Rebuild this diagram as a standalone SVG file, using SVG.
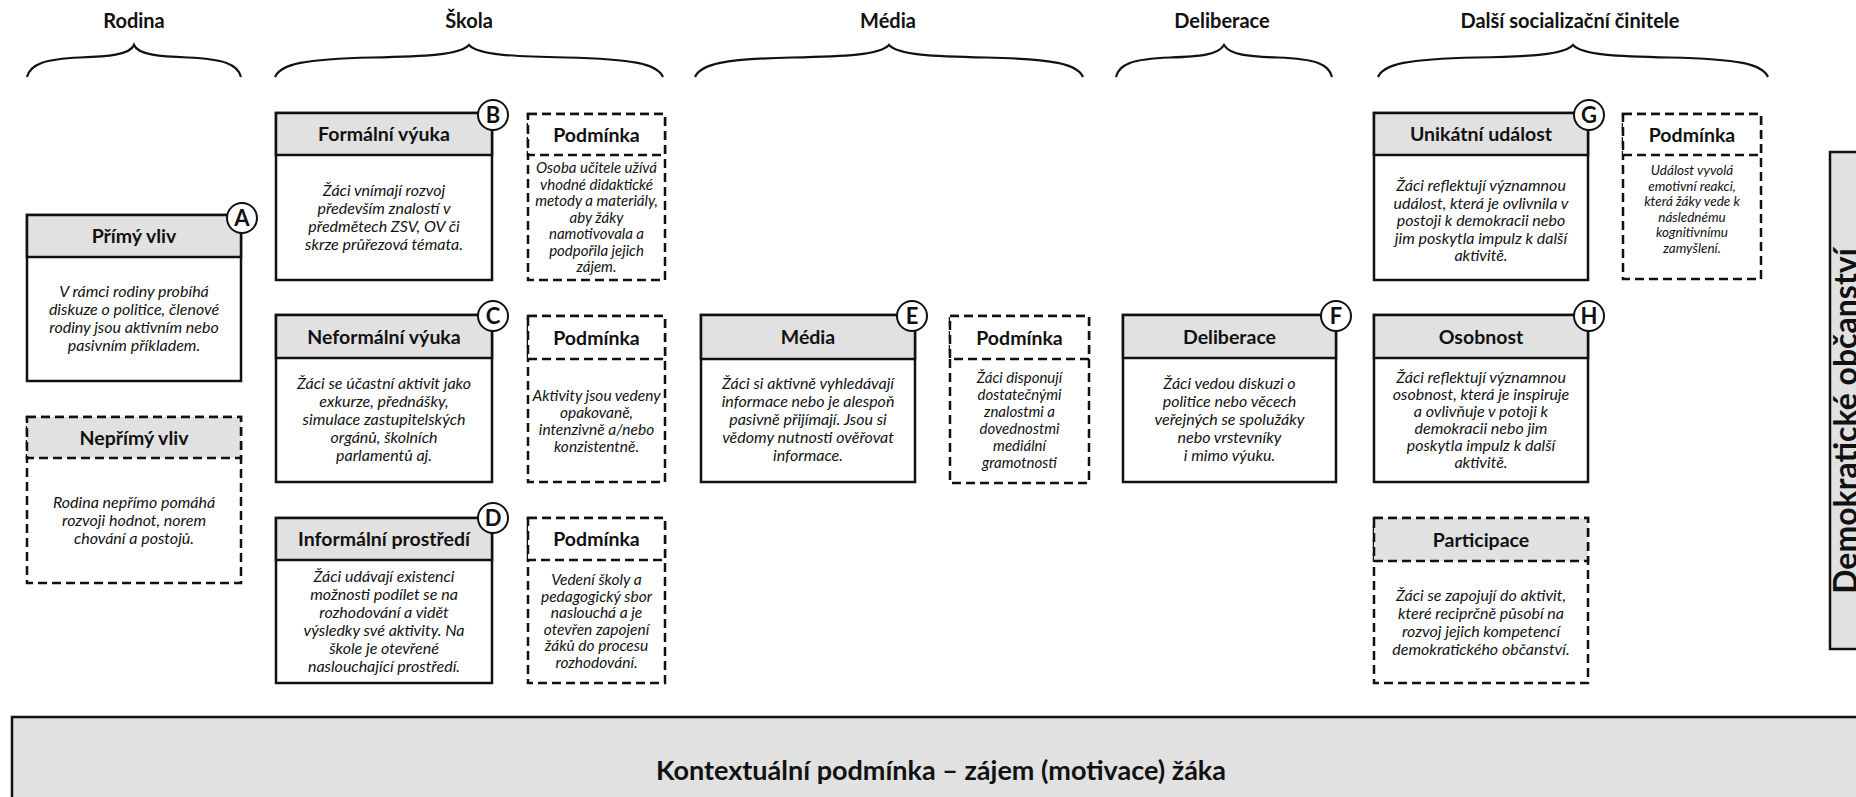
<svg xmlns="http://www.w3.org/2000/svg" width="1856" height="797" viewBox="0 0 1856 797">
<style>
text{font-family:Lato,"Open Sans","Liberation Sans",sans-serif;fill:#111;text-anchor:middle}
.t{font-weight:700;font-size:20px}
.h{font-weight:700;font-size:19.5px}
.b{font-style:italic;font-size:16px}
.s{font-style:italic;font-size:15px}
.xs{font-style:italic;font-size:13.5px}
.lt{font-weight:700;font-size:22px}
.box{fill:#fff;stroke:#111;stroke-width:2.5}
.hd{fill:#e1e1e1;stroke:#111;stroke-width:2.5}
.dbox{fill:#fff;stroke:#111;stroke-width:2.5;stroke-dasharray:9 5}
.dhd{fill:#e1e1e1;stroke:#111;stroke-width:2.5;stroke-dasharray:9 5}
.dhw{fill:#fff;stroke:#111;stroke-width:2.5;stroke-dasharray:9 5}
.circ{fill:#fff;stroke:#111;stroke-width:2}
.brace{fill:none;stroke:#111;stroke-width:2.2}
</style>

<g id="titles">
<text class="t" x="134" y="28">Rodina</text>
<text class="t" x="469" y="28">Škola</text>
<text class="t" x="888" y="28">Média</text>
<text class="t" x="1222" y="28">Deliberace</text>
<text class="t" x="1570" y="28">Další socializační činitele</text>
</g>

<g id="braces">
<path class="brace" d="M27,77 C30,64 45,59 80,57.5 C107,56.5 130,55 134,45 C138,55 161,56.5 188,57.5 C223,59 238,64 241,77"/>
<path class="brace" d="M275,77 C281,64 304,59 372,57.5 C425,56.5 460,55 469,45 C478,55 513,56.5 566,57.5 C634,59 657,64 663,77"/>
<path class="brace" d="M695,77 C701,64 724,59 792,57.5 C845,56.5 880,55 889,45 C898,55 933,56.5 986,57.5 C1054,59 1077,64 1083,77"/>
<path class="brace" d="M1116,77 C1119,64 1132,59 1170,57.5 C1200,56.5 1218,55 1224,45 C1230,55 1248,56.5 1278,57.5 C1316,59 1329,64 1332,77"/>
<path class="brace" d="M1378,77 C1384,64 1407,59 1476,57.5 C1529,56.5 1564,55 1573,45 C1582,55 1617,56.5 1670,57.5 C1739,59 1762,64 1768,77"/>
</g>

<g id="A">
<rect class="box" x="27" y="215" width="214" height="166"/>
<rect class="hd" x="27" y="215" width="214" height="42"/>
<text class="h" x="134" y="243">Přímý vliv</text>
<text class="b"><tspan x="134" y="297">V rámci rodiny probíhá</tspan><tspan x="134" y="315">diskuze o politice, členové</tspan><tspan x="134" y="333">rodiny jsou aktivním nebo</tspan><tspan x="134" y="351">pasivním příkladem.</tspan></text>
<circle class="circ" cx="242" cy="218" r="15"/>
<text class="lt" x="242" y="226">A</text>
</g>

<g id="neprimy">
<rect class="dbox" x="27" y="417" width="214" height="166"/>
<rect class="dhd" x="27" y="417" width="214" height="41"/>
<text class="h" x="134" y="444.5">Nepřímý vliv</text>
<text class="b"><tspan x="134" y="508">Rodina nepřímo pomáhá</tspan><tspan x="134" y="526">rozvoji hodnot, norem</tspan><tspan x="134" y="544">chování a postojů.</tspan></text>
</g>

<g id="B">
<rect class="box" x="276" y="113" width="216" height="167"/>
<rect class="hd" x="276" y="113" width="216" height="42"/>
<text class="h" x="384" y="141">Formální výuka</text>
<text class="b"><tspan x="384" y="196">Žáci vnímají rozvoj</tspan><tspan x="384" y="214">především znalostí v</tspan><tspan x="384" y="232">předmětech ZSV, OV či</tspan><tspan x="384" y="250">skrze průřezová témata.</tspan></text>
<circle class="circ" cx="493" cy="115" r="15"/>
<text class="lt" x="493" y="123">B</text>
</g>

<g id="podminka-B">
<rect class="dbox" x="528" y="114" width="137" height="166"/>
<rect class="dhw" x="528" y="114" width="137" height="41"/>
<text class="h" x="596.5" y="141.5">Podmínka</text>
<text class="s"><tspan x="596.5" y="173">Osoba učitele užívá</tspan><tspan x="596.5" y="189.5">vhodné didaktické</tspan><tspan x="596.5" y="206">metody a materiály,</tspan><tspan x="596.5" y="222.5">aby žáky</tspan><tspan x="596.5" y="239">namotivovala a</tspan><tspan x="596.5" y="255.5">podpořila jejich</tspan><tspan x="596.5" y="272">zájem.</tspan></text>
</g>

<g id="C">
<rect class="box" x="276" y="315" width="216" height="167"/>
<rect class="hd" x="276" y="315" width="216" height="43"/>
<text class="h" x="384" y="343.5">Neformální výuka</text>
<text class="b"><tspan x="384" y="389">Žáci se účastní aktivit jako</tspan><tspan x="384" y="407">exkurze, přednášky,</tspan><tspan x="384" y="425">simulace zastupitelských</tspan><tspan x="384" y="443">orgánů, školních</tspan><tspan x="384" y="461">parlamentů aj.</tspan></text>
<circle class="circ" cx="493" cy="316" r="15"/>
<text class="lt" x="493" y="324">C</text>
</g>

<g id="podminka-C">
<rect class="dbox" x="528" y="316" width="137" height="166"/>
<rect class="dhw" x="528" y="316" width="137" height="43"/>
<text class="h" x="596.5" y="344.5">Podmínka</text>
<text class="s" style="font-size:15.5px"><tspan x="596.5" y="401">Aktivity jsou vedeny</tspan><tspan x="596.5" y="418">opakovaně,</tspan><tspan x="596.5" y="435">intenzivně a/nebo</tspan><tspan x="596.5" y="452">konzistentně.</tspan></text>
</g>

<g id="D">
<rect class="box" x="276" y="518" width="216" height="165"/>
<rect class="hd" x="276" y="518" width="216" height="42"/>
<text class="h" x="384" y="546">Informální prostředí</text>
<text class="b"><tspan x="384" y="582">Žáci udávají existenci</tspan><tspan x="384" y="600">možnosti podílet se na</tspan><tspan x="384" y="618">rozhodování a vidět</tspan><tspan x="384" y="636">výsledky své aktivity. Na</tspan><tspan x="384" y="654">škole je otevřené</tspan><tspan x="384" y="672">naslouchající prostředí.</tspan></text>
<circle class="circ" cx="493" cy="518" r="15"/>
<text class="lt" x="493" y="526">D</text>
</g>

<g id="podminka-D">
<rect class="dbox" x="528" y="518" width="137" height="165"/>
<rect class="dhw" x="528" y="518" width="137" height="42"/>
<text class="h" x="596.5" y="546">Podmínka</text>
<text class="s" style="font-size:15.5px"><tspan x="596.5" y="585">Vedení školy a</tspan><tspan x="596.5" y="601.5">pedagogický sbor</tspan><tspan x="596.5" y="618">naslouchá a je</tspan><tspan x="596.5" y="634.5">otevřen zapojení</tspan><tspan x="596.5" y="651">žáků do procesu</tspan><tspan x="596.5" y="667.5">rozhodování.</tspan></text>
</g>

<g id="E">
<rect class="box" x="701" y="315" width="214" height="167"/>
<rect class="hd" x="701" y="315" width="214" height="44"/>
<text class="h" x="808" y="344">Média</text>
<text class="b"><tspan x="808" y="389">Žáci si aktivně vyhledávají</tspan><tspan x="808" y="407">informace nebo je alespoň</tspan><tspan x="808" y="425">pasivně přijímají. Jsou si</tspan><tspan x="808" y="443">vědomy nutnosti ověřovat</tspan><tspan x="808" y="461">informace.</tspan></text>
<circle class="circ" cx="912" cy="316" r="15"/>
<text class="lt" x="912" y="324">E</text>
</g>

<g id="podminka-E">
<rect class="dbox" x="950" y="316" width="139" height="167"/>
<rect class="dhw" x="950" y="316" width="139" height="43"/>
<text class="h" x="1019.5" y="344.5">Podmínka</text>
<text class="s"><tspan x="1019.5" y="383">Žáci disponují</tspan><tspan x="1019.5" y="400">dostatečnými</tspan><tspan x="1019.5" y="417">znalostmi a</tspan><tspan x="1019.5" y="434">dovednostmi</tspan><tspan x="1019.5" y="451">mediální</tspan><tspan x="1019.5" y="468">gramotnosti</tspan></text>
</g>

<g id="F">
<rect class="box" x="1123" y="315" width="213" height="167"/>
<rect class="hd" x="1123" y="315" width="213" height="43"/>
<text class="h" x="1229.5" y="343.5">Deliberace</text>
<text class="b"><tspan x="1229.5" y="389">Žáci vedou diskuzi o</tspan><tspan x="1229.5" y="407">politice nebo věcech</tspan><tspan x="1229.5" y="425">veřejných se spolužáky</tspan><tspan x="1229.5" y="443">nebo vrstevníky</tspan><tspan x="1229.5" y="461">i mimo výuku.</tspan></text>
<circle class="circ" cx="1336" cy="316" r="15"/>
<text class="lt" x="1336" y="324">F</text>
</g>

<g id="G">
<rect class="box" x="1374" y="113" width="214" height="167"/>
<rect class="hd" x="1374" y="113" width="214" height="42"/>
<text class="h" x="1481" y="141">Unikátní událost</text>
<text class="b"><tspan x="1481" y="191">Žáci reflektují významnou</tspan><tspan x="1481" y="208.5">událost, která je ovlivnila v</tspan><tspan x="1481" y="226">postoji k demokracii nebo</tspan><tspan x="1481" y="243.5">jim poskytla impulz k další</tspan><tspan x="1481" y="261">aktivitě.</tspan></text>
<circle class="circ" cx="1589" cy="115" r="15"/>
<text class="lt" x="1589" y="123">G</text>
</g>

<g id="podminka-G">
<rect class="dbox" x="1623" y="114" width="138" height="165"/>
<rect class="dhw" x="1623" y="114" width="138" height="41"/>
<text class="h" x="1692" y="141.5">Podmínka</text>
<text class="xs"><tspan x="1692" y="175">Událost vyvolá</tspan><tspan x="1692" y="190.5">emotivní reakci,</tspan><tspan x="1692" y="206">která žáky vede k</tspan><tspan x="1692" y="221.5">následnému</tspan><tspan x="1692" y="237">kognitivnímu</tspan><tspan x="1692" y="252.5">zamyšlení.</tspan></text>
</g>

<g id="H">
<rect class="box" x="1374" y="315" width="214" height="167"/>
<rect class="hd" x="1374" y="315" width="214" height="43"/>
<text class="h" x="1481" y="343.5">Osobnost</text>
<text class="b"><tspan x="1481" y="383">Žáci reflektují významnou</tspan><tspan x="1481" y="400">osobnost, která je inspiruje</tspan><tspan x="1481" y="417">a ovlivňuje v potoji k</tspan><tspan x="1481" y="434">demokracii nebo jim</tspan><tspan x="1481" y="451">poskytla impulz k další</tspan><tspan x="1481" y="468">aktivitě.</tspan></text>
<circle class="circ" cx="1589" cy="316" r="15"/>
<text class="lt" x="1589" y="324">H</text>
</g>

<g id="participace">
<rect class="dbox" x="1374" y="518" width="214" height="165"/>
<rect class="dhd" x="1374" y="518" width="214" height="43"/>
<text class="h" x="1481" y="546.5">Participace</text>
<text class="b"><tspan x="1481" y="601">Žáci se zapojují do aktivit,</tspan><tspan x="1481" y="619">které reciprčně působí na</tspan><tspan x="1481" y="637">rozvoj jejich kompetencí</tspan><tspan x="1481" y="655">demokratického občanství.</tspan></text>
</g>

<g id="demokraticke-obcanstvi">
<rect class="hd" x="1830" y="152" width="40" height="497"/>
<text transform="translate(1857,421) rotate(-90)" style="font-weight:700;font-size:32px">Demokratické občanství</text>
</g>

<g id="kontextualni-podminka">
<rect class="hd" x="12" y="717" width="1860" height="100"/>
<text x="941" y="780" style="font-weight:700;font-size:27px">Kontextuální podmínka – zájem (motivace) žáka</text>
</g>

<g id="connectors"></g>
</svg>
